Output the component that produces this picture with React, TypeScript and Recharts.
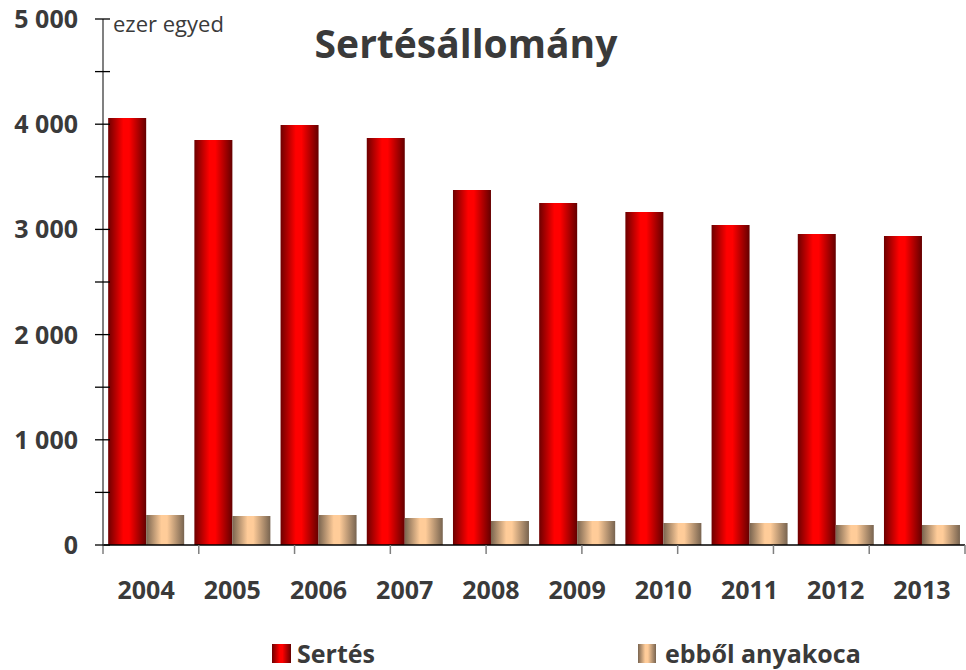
import React from 'react';
import { BarChart, Bar, XAxis, YAxis } from 'recharts';

const years = ['2004', '2005', '2006', '2007', '2008', '2009', '2010', '2011', '2012', '2013'];
const sertes = [4059, 3850, 3992, 3869, 3375, 3251, 3165, 3042, 2956, 2937];
const anyakoca = [285, 276, 285, 257, 228, 228, 209, 209, 190, 190];
const yTicks = [0, 500, 1000, 1500, 2000, 2500, 3000, 3500, 4000, 4500, 5000];
const edgeTicks = [0, 1, 2, 3, 4, 5, 6, 7, 8, 9, 10];
const seriesNames = ['Sertés', 'ebből anyakoca'];
const titleText = 'Sertésállomány';
const unitText = 'ezer egyed';

const data = years.map((y, i) => ({ year: y, sertes: sertes[i], anyakoca: anyakoca[i] }));

const FONT = '"Open Sans", "DejaVu Sans", sans-serif';
const TEXT = '#3a3a3a';

const fmt = (v: number) => (v === 0 ? '0' : `${v / 1000} 000`);

function YTick(props: any) {
  const { x, y, payload } = props;
  const v = payload.value as number;
  const major = v % 1000 === 0;
  return (
    <g>
      <line x1={x - 8} x2={x + 7} y1={y} y2={y} stroke="#000" strokeWidth={1.3} />
      {major && (
        <text x={x - 25} y={y + 9} textAnchor="end" fontFamily={FONT} fontWeight={700} fontSize={25} fill={TEXT}>
          {fmt(v)}
        </text>
      )}
    </g>
  );
}

function XTick(props: any) {
  const { x, y, payload } = props;
  return (
    <text x={x} y={y + 54} textAnchor="middle" fontFamily={FONT} fontWeight={700} fontSize={25} fill={TEXT}>
      {payload.value}
    </text>
  );
}

function EdgeTick(props: any) {
  const { x, y } = props;
  return <line x1={x} x2={x} y1={y - 1} y2={y + 8} stroke="#7f7f7f" strokeWidth={1.5} />;
}

function Grad({ id, edgeL, mid, edgeR }: { id: string; edgeL: string; mid: string; edgeR: string }) {
  return (
    <linearGradient id={id} x1="0" y1="0" x2="1" y2="0">
      <stop offset="0%" stopColor={edgeL} />
      <stop offset="40%" stopColor={mid} />
      <stop offset="55%" stopColor={mid} />
      <stop offset="100%" stopColor={edgeR} />
    </linearGradient>
  );
}

export default function App() {
  return (
    <div style={{ position: 'absolute', left: 0, top: 0, width: 966, height: 670, background: '#fff' }}>
      <BarChart
        width={966}
        height={670}
        data={data}
        margin={{ top: 19, right: 1, left: 0, bottom: 123 }}
        barCategoryGap="6%"
        barGap={0}
      >
        <defs>
          <Grad id="gRed" edgeL="#6e0000" mid="#ff0000" edgeR="#640000" />
          <Grad id="gTan" edgeL="#7a6550" mid="#ffcc99" edgeR="#786450" />
        </defs>
        <XAxis
          dataKey="year"
          height={1}
          tickSize={0}
          tickMargin={0}
          tickLine={false}
          axisLine={{ stroke: '#000', strokeWidth: 1.5 }}
          tick={<XTick />}
          interval={0}
        />
        <XAxis
          xAxisId="edge"
          type="number"
          domain={[0, 10]}
          ticks={edgeTicks}
          height={1}
          tick={<EdgeTick />}
          tickSize={0}
          tickMargin={0}
          axisLine={false}
          tickLine={false}
          interval={0}
        />
        <YAxis
          width={103}
          domain={[0, 5000]}
          ticks={yTicks}
          interval={0}
          tickSize={0}
          tickMargin={0}
          tickLine={false}
          axisLine={{ stroke: '#808080', strokeWidth: 2 }}
          tick={<YTick />}
        />
        <Bar dataKey="sertes" name={seriesNames[0]} fill="url(#gRed)" isAnimationActive={false} />
        <Bar dataKey="anyakoca" name={seriesNames[1]} fill="url(#gTan)" isAnimationActive={false} />
      </BarChart>
      <svg width={966} height={670} style={{ position: 'absolute', left: 0, top: 0, pointerEvents: 'none' }}>
        <defs>
          <Grad id="lRed" edgeL="#6e0000" mid="#ff0000" edgeR="#640000" />
          <Grad id="lTan" edgeL="#7a6550" mid="#ffcc99" edgeR="#786450" />
        </defs>
        <text x={466} y={58} textAnchor="middle" fontFamily={FONT} fontWeight={700} fontSize={39} fill={TEXT}>
          {titleText}
        </text>
        <text x={113} y={32} fontFamily={FONT} fontSize={22} fill={TEXT}>
          {unitText}
        </text>
        <rect x={272} y={644} width={19} height={19} fill="url(#lRed)" />
        <text x={297} y={663} fontFamily={FONT} fontWeight={700} fontSize={25} fill={TEXT}>
          {seriesNames[0]}
        </text>
        <rect x={638} y={644} width={18} height={19} fill="url(#lTan)" />
        <text x={665} y={663} fontFamily={FONT} fontWeight={700} fontSize={25} fill={TEXT}>
          {seriesNames[1]}
        </text>
      </svg>
    </div>
  );
}
